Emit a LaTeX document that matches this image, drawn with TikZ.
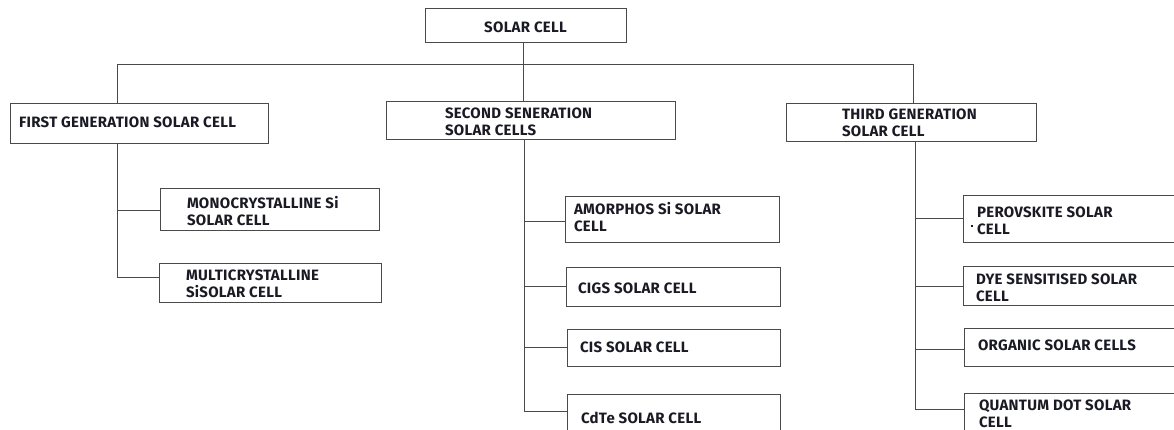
\documentclass[tikz,border=0pt]{standalone}
\usepackage{fontspec}
\setmainfont[LetterSpace=2]{Fira Sans}
\definecolor{ln}{HTML}{4A4A4A}
\definecolor{tx}{HTML}{1A1A24}
\tikzset{
  cellbox/.style={draw=ln, line width=0.9pt, rectangle, font=\bfseries\fontsize{15}{17}\selectfont, text=tx, inner ysep=0pt},
  conn/.style={draw=ln, line width=0.9pt}
}
\newcommand{\cbox}[8]{% name, x1, y1, x2, y2, pad, text, downward text offset
  \node[cellbox, minimum height={(#5-#3)*1pt}, inner xsep=#6pt] (#1) at ({(#2+#4)/2},{(#3+#5)/2})
  {\makebox[\dimexpr #4pt-#2pt-#6pt-#6pt\relax][l]{\raisebox{-#8pt}[\height][\depth]{\begin{tabular}{@{}l@{}}#7\end{tabular}}}};}
\begin{document}
\begin{tikzpicture}[x=1pt,y=-1pt]
\useasboundingbox (0,0) rectangle (1174,430);
\clip (0,0) rectangle (1174,430);
\node[cellbox, minimum width=201pt, minimum height=34pt] (root) at (525.5,25) {\raisebox{-2pt}[\height][\depth]{SOLAR CELL}};
\cbox{first}{10}{103}{268}{143}{9}{FIRST GENERATION SOLAR CELL}{1}
\cbox{second}{386}{101}{675}{139}{59}{SECOND SENERATION\\SOLAR CELLS}{3.5}
\cbox{third}{786}{103}{1036}{141}{56}{THIRD GENERATION\\SOLAR CELL}{3}
\cbox{mono}{160}{188}{379}{230}{27}{MONOCRYSTALLINE Si\\SOLAR CELL}{4.5}
\cbox{multi}{159}{263}{381}{302}{27}{MULTICRYSTALLINE\\SiSOLAR CELL}{3}
\cbox{amor}{565}{196}{779}{242}{9}{AMORPHOS Si SOLAR\\CELL}{0}
\cbox{cigs}{566}{267}{780}{306}{12}{CIGS SOLAR CELL}{3.5}
\cbox{cis}{567}{329}{780}{366}{13}{CIS SOLAR CELL}{2}
\cbox{cdte}{567}{394}{780}{440}{14}{CdTe SOLAR CELL}{3}
\cbox{pero}{963}{195}{1210}{242}{14}{PEROVSKITE SOLAR\\CELL}{4}
\cbox{dye}{963}{266}{1210}{305}{13}{DYE SENSITISED SOLAR\\CELL}{4.5}
\cbox{org}{964}{328}{1210}{366}{14}{ORGANIC SOLAR CELLS}{0}
\cbox{qd}{964}{393}{1210}{433}{15}{QUANTUM DOT SOLAR\\CELL}{2.5}
\fill[tx] (970.5,225.5) rectangle (972.5,227.5);
% top level
\coordinate (hub) at (523,64);
\coordinate (hl) at (117,64);
\coordinate (hr) at (913,64);
\draw[conn] (root.south -| hub) -- (hub |- second.north);
\draw[conn] (hl) -- (hr);
\draw[conn] (hl) -- (hl |- first.north);
\draw[conn] (hr) -- (hr |- third.north);
% first generation
\coordinate (f1) at (117,210);
\coordinate (f2) at (117,277);
\draw[conn] (f1 |- first.south) -- (f2) -- (f2 -| multi.west);
\draw[conn] (f1) -- (f1 -| mono.west);
% second generation
\coordinate (s1) at (524,221);
\coordinate (s2) at (524,286);
\coordinate (s3) at (524,347);
\coordinate (s4) at (524,411);
\draw[conn] (s1 |- second.south) -- (s4) -- (s4 -| cdte.west);
\draw[conn] (s1) -- (s1 -| amor.west);
\draw[conn] (s2) -- (s2 -| cigs.west);
\draw[conn] (s3) -- (s3 -| cis.west);
% third generation
\coordinate (t1) at (915,218);
\coordinate (t2) at (915,286);
\coordinate (t3) at (915,349);
\coordinate (t4) at (915,409);
\draw[conn] (t1 |- third.south) -- (t4) -- (t4 -| qd.west);
\draw[conn] (t1) -- (t1 -| pero.west);
\draw[conn] (t2) -- (t2 -| dye.west);
\draw[conn] (t3) -- (t3 -| org.west);
\end{tikzpicture}
\end{document}
